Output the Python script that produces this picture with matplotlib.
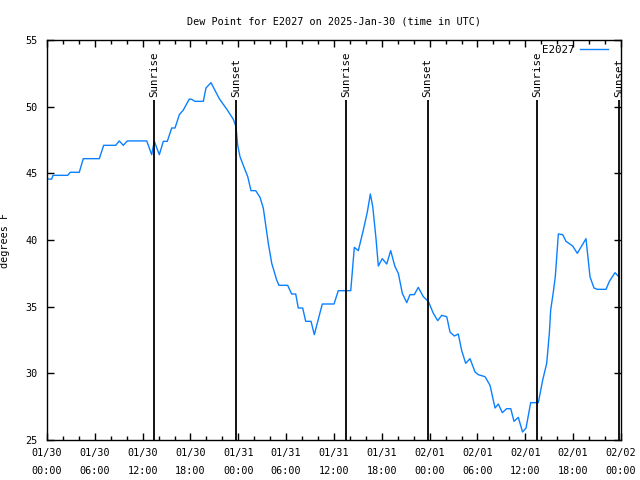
import numpy as np
import matplotlib
matplotlib.use("Agg")
import matplotlib.pyplot as plt
import matplotlib.dates as mdates
from datetime import datetime, timedelta

# hours after 2025-01-30 00:00 UTC, dew point in F
hours = [0.0, 0.59, 0.75, 2.6, 2.92, 4.05, 4.55, 6.56, 7.11, 8.62, 9.07, 9.57, 10.07,
         12.51, 13.13, 13.46, 14.09, 14.59, 15.09, 15.64, 16.06, 16.6, 17.1, 17.85,
         18.15, 18.56, 19.61, 19.94, 20.57, 21.61, 22.62, 23.37, 23.71, 23.92, 24.21,
         24.75, 25.18, 25.59, 26.18, 26.72, 27.13, 27.76, 28.19, 28.81, 29.1, 30.19,
         30.69, 31.2, 31.52, 32.07, 32.45, 33.12, 33.53, 34.53, 36.0, 36.54, 38.1,
         38.55, 39.05, 39.68, 40.18, 40.56, 40.86, 41.27, 41.56, 42.06, 42.61, 43.11,
         43.65, 44.07, 44.57, 45.12, 45.53, 46.07, 46.57, 47.2, 47.83, 48.46, 49.01,
         49.51, 50.14, 50.55, 51.09, 51.59, 52.02, 52.52, 53.06, 53.69, 54.1, 54.94,
         55.57, 56.2, 56.61, 57.11, 57.66, 58.17, 58.58, 59.12, 59.65, 60.09, 60.67,
         61.63, 62.18, 62.68, 63.01, 63.18, 63.51, 63.76, 64.14, 64.69, 65.1, 65.94,
         66.52, 67.61, 68.11, 68.61, 69.03, 70.12, 70.54, 71.25, 71.79]
dewpt = [44.57, 44.57, 44.85, 44.85, 45.08, 45.08, 46.1, 46.1, 47.1, 47.1, 47.43, 47.1, 47.43,
         47.43, 46.4, 47.4, 46.4, 47.4, 47.4, 48.4, 48.4, 49.4, 49.75, 50.57,
         50.55, 50.4, 50.4, 51.4, 51.8, 50.6, 49.75, 49.05, 48.5, 47.1, 46.25,
         45.4, 44.75, 43.7, 43.7, 43.2, 42.4, 39.75, 38.25, 37.0, 36.6, 36.6,
         35.95, 35.95, 34.9, 34.9, 33.9, 33.9, 32.9, 35.2, 35.2, 36.2, 36.2,
         39.45, 39.2, 40.75, 42.1, 43.45, 42.5, 40.1, 38.05, 38.6, 38.2, 39.2,
         38.0, 37.5, 36.0, 35.3, 35.9, 35.9, 36.45, 35.75, 35.4, 34.5, 33.95,
         34.35, 34.25, 33.1, 32.8, 32.95, 31.7, 30.75, 31.1, 30.1, 29.9, 29.75,
         29.1, 27.4, 27.7, 27.05, 27.35, 27.35, 26.4, 26.7, 25.6, 25.9, 27.8,
         27.8, 29.5, 30.75, 33.0, 34.75, 36.1, 37.25, 40.45, 40.4, 39.9, 39.55,
         39.0, 40.1, 37.25, 36.4, 36.3, 36.3, 36.9, 37.55, 37.2]

sunrise = ["2025-01-30 13:28", "2025-01-31 13:29", "2025-02-01 13:30"]
sunset = ["2025-01-30 23:43", "2025-01-31 23:44", "2025-02-01 23:45"]

base = datetime(2025, 1, 30)
t = [base + timedelta(hours=h) for h in hours]

plt.rcParams['font.family'] = ['DejaVu Sans Mono']
plt.rcParams['font.size'] = 7.3

fig = plt.figure(figsize=(6.4, 4.8), dpi=100)
ax = fig.add_axes([47/640, 40/480, 574/640, 400/480])

ax.plot(t, dewpt, color='#0a80ff', lw=1, label='E2027')

# sunrise / sunset markers
for lab, times in [('Sunrise', sunrise), ('Sunset', sunset)]:
    for s in times:
        d = datetime.strptime(s, "%Y-%m-%d %H:%M")
        ax.vlines(d, 25, 50.5, color='black', lw=1.3, zorder=3)
        ax.text(d, 50.75, lab, rotation=90, ha='center', va='bottom', fontsize=7.8)

ax.set_xlim(base, base + timedelta(days=3))
ax.set_ylim(25, 55)
ax.set_yticks(np.arange(25, 56, 5))

ax.xaxis.set_major_locator(mdates.HourLocator(byhour=range(0, 24, 6)))
ax.xaxis.set_minor_locator(mdates.HourLocator(byhour=range(0, 24, 2)))
ax.xaxis.set_major_formatter(mdates.DateFormatter('%m/%d\n%H:%M'))
for lbl in ax.get_xticklabels():
    lbl.set_linespacing(1.9)

ax.tick_params(which='both', direction='in', top=True, right=True, width=1)
ax.tick_params(which='major', length=5, pad=6)
ax.tick_params(which='minor', length=3)
ax.tick_params(axis='y', pad=7)
for sp in ax.spines.values():
    sp.set_linewidth(1)

ax.set_title('Dew Point for E2027 on 2025-Jan-30 (time in UTC)', fontsize=7.3, pad=11)
ax.set_ylabel('degrees F')
ax.yaxis.set_label_coords(-0.064, 0.5)

ax.legend(loc='upper right', frameon=False, markerfirst=False, handlelength=2.6,
          bbox_to_anchor=(0.995, 1.012), handletextpad=0.5, fontsize=7.8)

fig.savefig('out.png', dpi=100)
